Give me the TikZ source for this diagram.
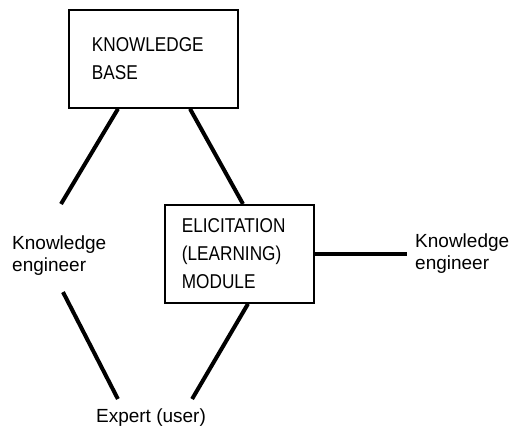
\documentclass[tikz,border=0pt]{standalone}
\usepackage{fontspec}
\setmainfont{Liberation Sans}
\newfontfamily\capsfont{Liberation Sans}[FakeStretch=0.86]
\tikzset{
  box/.style={draw, line width=1.8pt, anchor=north west, inner ysep=0pt, align=left,
    font=\capsfont\fontsize{20}{28}\selectfont},
  lbl/.style={inner sep=0pt, align=left, font=\fontsize{19}{22}\selectfont},
  link/.style={line width=4pt},
}
\begin{document}
\begin{tikzpicture}[x=1pt,y=-1pt]
\useasboundingbox (0,0) rectangle (520,428);
\node[box, minimum width=169pt, minimum height=98pt, inner xsep=23pt, text width=123pt] (kb) at (68,9) {KNOWLEDGE\\BASE};
\node[box, minimum width=149pt, minimum height=98pt, inner xsep=17pt, text width=115pt] (el) at (164,204) {ELICITATION\\(LEARNING)\\MODULE};
\node[lbl, anchor=north west] (ke1) at (12,236) {Knowledge\\engineer};
\node[lbl, anchor=north west] (ke2) at (415,234) {Knowledge\\engineer};
\node[lbl, anchor=north] (ex) at (151,409) {Expert (user)};
\coordinate (kbl) at ([xshift=50pt]kb.south west);
\coordinate (kbr) at ([xshift=122pt]kb.south west);
\coordinate (elt) at ([xshift=79pt]el.north west);
\coordinate (elb) at ([xshift=84pt]el.south west);
\coordinate (ke1t) at ([xshift=49pt,yshift=32pt]ke1.north west);
\coordinate (ke1b) at ([xshift=51pt,yshift=-16pt]ke1.south west);
\coordinate (exl) at ([xshift=22pt,yshift=10pt]ex.north west);
\coordinate (exr) at ([xshift=-14pt,yshift=10pt]ex.north east);
\draw[link] (kbl) -- (ke1t);
\draw[link] (kbr) -- (elt);
\draw[link] (ke1b) -- (exl);
\draw[link] (elb) -- (exr);
\draw[link, shorten >=8pt] (el.east) -- (el.east -| ke2.west);
\end{tikzpicture}
\end{document}
